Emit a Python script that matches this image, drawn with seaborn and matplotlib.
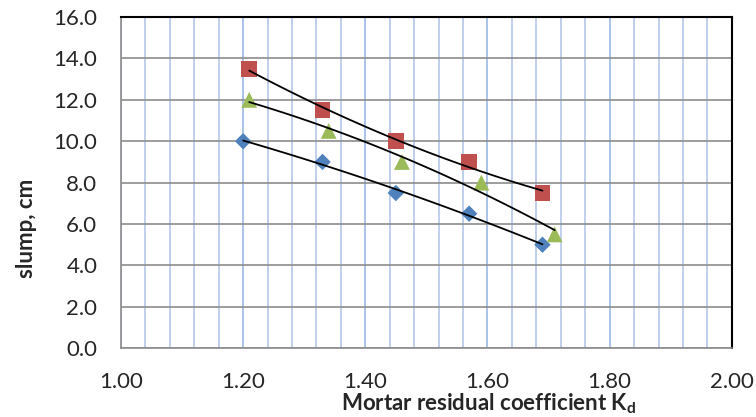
import matplotlib.pyplot as plt
import seaborn as sns
import pandas as pd
import numpy as np
from matplotlib.ticker import MultipleLocator

# data
x_blue = [1.20, 1.33, 1.45, 1.57, 1.69]
y_blue = [10.0, 9.0, 7.5, 6.5, 5.0]
x_red = [1.21, 1.33, 1.45, 1.57, 1.69]
y_red = [13.5, 11.5, 10.0, 9.0, 7.5]
x_green = [1.21, 1.34, 1.46, 1.59, 1.71]
y_green = [12.0, 10.5, 9.0, 8.0, 5.5]

series = [
    ("blue", x_blue, y_blue, "#4F81BD", "D", 70),
    ("red", x_red, y_red, "#C0504D", "s", 130),
    ("green", x_green, y_green, "#9BBB59", "^", 130),
]

sns.set_style("white")
plt.rcParams["font.family"] = ["Lato", "DejaVu Sans"]

fig, ax = plt.subplots(figsize=(7.56, 4.17), dpi=100)

for name, xs, ys, col, mk, sz in series:
    df = pd.DataFrame({"x": xs, "y": ys})
    # excel-style trendline (2nd order polynomial)
    coef = np.polyfit(df["x"], df["y"], 2)
    xx = np.linspace(min(xs), max(xs), 50)
    fit = pd.DataFrame({"x": xx, "y": np.polyval(coef, xx)})
    sns.scatterplot(data=df, x="x", y="y", ax=ax, marker=mk, s=sz, color=col,
                    edgecolor="none", zorder=3)
    sns.lineplot(data=fit, x="x", y="y", ax=ax, color="black", linewidth=1.3, zorder=4)

ax.set_xlim(1.0, 2.0)
ax.set_ylim(0, 16)
ax.xaxis.set_major_locator(MultipleLocator(0.2))
ax.xaxis.set_minor_locator(MultipleLocator(0.04))
ax.yaxis.set_major_locator(MultipleLocator(2.0))
ax.set_xticklabels([f"{v:.2f}" for v in ax.get_xticks()])
ax.set_yticklabels([f"{v:.1f}" for v in ax.get_yticks()])

ax.grid(which="minor", axis="x", color="#B4C7E7", linewidth=1.2, zorder=0)
ax.grid(which="major", axis="x", color="#9DB9E5", linewidth=1.2, zorder=0)
ax.grid(which="major", axis="y", color="#8C8C8C", linewidth=1.2, zorder=0)
ax.set_axisbelow(True)

for s in ["left", "bottom"]:
    ax.spines[s].set_color("#8C8C8C")
    ax.spines[s].set_linewidth(1.2)
for s in ["top", "right"]:
    ax.spines[s].set_visible(True)
    ax.spines[s].set_color("black")
    ax.spines[s].set_linewidth(1.5)

ax.tick_params(axis="x", which="major", direction="in", length=5, color="#8C8C8C",
               labelsize=16, pad=17)
ax.tick_params(axis="x", which="minor", length=0)
ax.tick_params(axis="y", length=0, labelsize=16, pad=17)

ax.set_xlabel(r"Mortar residual coefficient K$_\mathregular{d}$", fontsize=16,
              fontweight="bold")
ax.xaxis.set_label_coords(0.602, -0.13)
ax.set_ylabel("slump, cm", fontsize=16, fontweight="bold")
ax.yaxis.label.set_va("center")
ax.yaxis.set_label_coords(-0.154, 0.363)

plt.subplots_adjust(left=0.16, right=0.968, top=0.959, bottom=0.165)
plt.savefig("out.png", dpi=100)
